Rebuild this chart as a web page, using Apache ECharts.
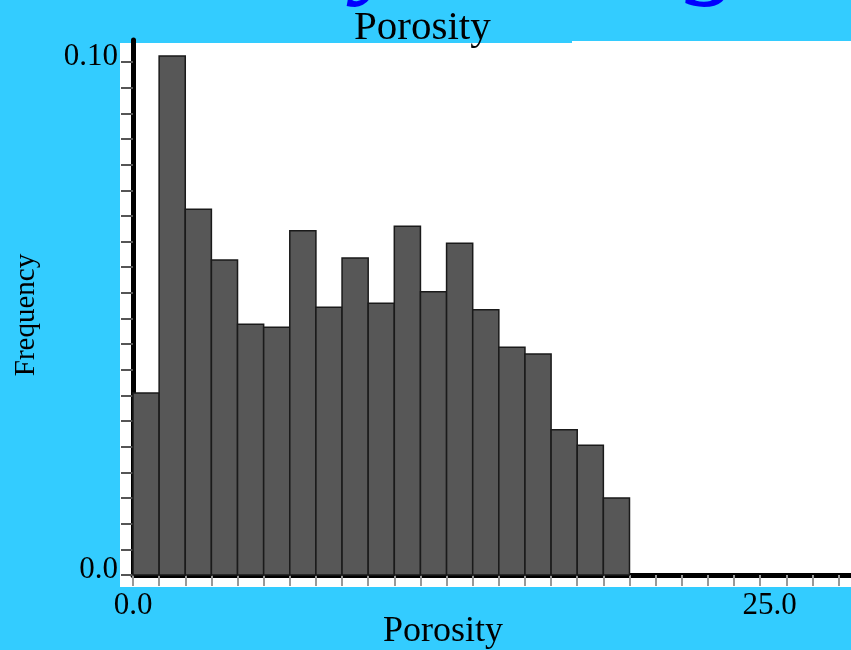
<!DOCTYPE html>
<html><head><meta charset="utf-8">
<script src="https://cdn.jsdelivr.net/npm/echarts@6/dist/echarts.min.js"></script>
<style>html,body{margin:0;padding:0;background:#33CCFF;overflow:hidden}#c{width:851px;height:650px}</style>
</head><body><div id="c"></div>
<script>
// ---- data ----
const binLow = 0;
const binHigh = 19.5;
const frequency = [0.0355, 0.1012, 0.0713, 0.0614, 0.0489, 0.0483, 0.0671, 0.0522, 0.0618, 0.0530,
                   0.0680, 0.0552, 0.0647, 0.0517, 0.0444, 0.0431, 0.0283, 0.0253, 0.0150];
const yTickValues = [0, 0.10];
const yTickLabels = ['0.0', '0.10'];
const xTickValues = [0, 25];
const xTickLabels = ['0.0', '25.0'];
const titleText = 'Porosity';
const bannerText = 'Porosity Histogram';
const xName = 'Porosity';
const yName = 'Frequency';

// ---- build ----
const binWidth = (binHigh - binLow) / frequency.length;
const bins = frequency.map((f, i) => [binLow + i * binWidth, binLow + (i + 1) * binWidth, f]);
const yMax = 0.1043, xMax = 28.2;
const yTicks = []; for (let v = 0; v <= 0.1001; v += 0.005) yTicks.push(+v.toFixed(4));
const xTicks = []; for (let k = 0; binLow + k * binWidth <= xMax; k++) xTicks.push(binLow + k * binWidth);
function lab(vals, labels) {
  return v => { const i = vals.findIndex(t => Math.abs(t - v) < 1e-6); return i >= 0 ? labels[i] : ''; };
}
const serif = '"Liberation Serif", "Times New Roman", serif';

const chart = echarts.init(document.getElementById('c'), null, {renderer: 'canvas'});
chart.setOption({
  backgroundColor: '#33CCFF',
  animation: false,
  title: {
    text: titleText, left: 349, top: 3,
    textStyle: {fontFamily: serif, fontSize: 41, fontWeight: 'normal', color: '#000'}
  },
  graphic: [
    {type: 'rect', z: -10, shape: {x: 120, y: 43, width: 731, height: 544}, style: {fill: '#fff'}},
    {type: 'rect', z: -10, shape: {x: 572, y: 41, width: 279, height: 4}, style: {fill: '#fff'}},
    {type: 'text', z: 5, style: {text: bannerText, x: 475, y: -47, textAlign: 'center', textVerticalAlign: 'middle',
      font: 'italic 115px ' + serif, fill: '#0000FF'}}
  ],
  grid: {left: 133, right: 0, top: 40, bottom: 75, containLabel: false, outerBoundsMode: 'none'},
  xAxis: {
    type: 'value', min: 0, max: xMax,
    name: xName, nameLocation: 'middle', nameGap: 39, nameMoveOverlap: false,
    nameTextStyle: {fontFamily: serif, fontSize: 36, color: '#000', padding: [0, 98, 0, 0]},
    axisLine: {show: true, lineStyle: {color: '#000', width: 5}},
    axisTick: {show: true, customValues: xTicks, length: 11, lineStyle: {color: '#999', width: 2}},
    axisLabel: {customValues: xTickValues, formatter: lab(xTickValues, xTickLabels),
      fontFamily: serif, fontSize: 31, color: '#000', margin: 15},
    splitLine: {show: false}
  },
  yAxis: {
    type: 'value', min: 0, max: yMax,
    name: yName, nameLocation: 'middle', nameGap: 92, nameRotate: 90, nameMoveOverlap: false,
    nameTextStyle: {fontFamily: serif, fontSize: 29, color: '#000', padding: [0, 15, 0, 0]},
    axisLine: {show: true, lineStyle: {color: '#000', width: 5}},
    axisTick: {show: true, customValues: yTicks, length: 12, lineStyle: {color: '#555', width: 2}},
    axisLabel: {customValues: yTickValues, formatter: lab(yTickValues, yTickLabels),
      fontFamily: serif, fontSize: 31, color: '#000', margin: 15, verticalAlign: 'bottom', lineHeight: 10},
    splitLine: {show: false}
  },
  series: [{
    type: 'custom',
    data: bins,
    encode: {x: [0, 1], y: 2},
    renderItem: function (params, api) {
      const p0 = api.coord([api.value(0), 0]);
      const p1 = api.coord([api.value(1), api.value(2)]);
      return {type: 'rect', shape: {x: p0[0], y: p1[1], width: p1[0] - p0[0], height: p0[1] - p1[1]},
        style: {fill: '#575757', stroke: '#1a1a1a', lineWidth: 1.5}};
    }
  }]
});
</script></body></html>
